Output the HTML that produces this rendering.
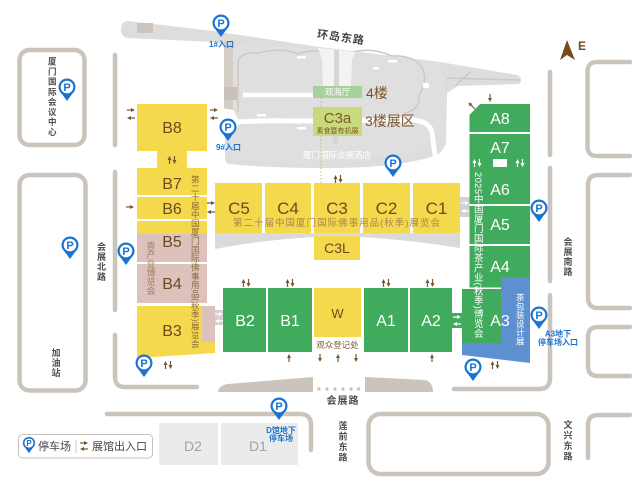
<!DOCTYPE html>
<html><head><meta charset="utf-8">
<style>
html,body{margin:0;padding:0;background:#fff;}
body{width:640px;height:490px;position:relative;overflow:hidden;}
svg{position:absolute;left:0;top:0;}
.v{position:absolute;writing-mode:vertical-rl;white-space:nowrap;font-family:"Liberation Sans","Noto Sans CJK SC",sans-serif;}
.rd{color:#4d4d4d;font-weight:bold;font-size:9px;line-height:9px;letter-spacing:1px;}
</style></head>
<body>
<svg width="640" height="490" viewBox="0 0 640 490" xmlns="http://www.w3.org/2000/svg" font-family="'Liberation Sans','Noto Sans CJK SC',sans-serif">
<defs>
<marker id="mb" markerWidth="4" markerHeight="4" refX="0.5" refY="2" orient="auto" markerUnits="userSpaceOnUse"><path d="M0,0L4,2L0,4z" fill="#7a5530"/></marker>
<marker id="mw" markerWidth="4" markerHeight="4" refX="0.5" refY="2" orient="auto" markerUnits="userSpaceOnUse"><path d="M0,0L4,2L0,4z" fill="#fff"/></marker>
</defs>

<!-- roads -->
<g fill="none" stroke="#cbc4bd" stroke-width="4.5" stroke-linecap="round">
<rect x="19.5" y="50" width="65" height="95" rx="10"/>
<rect x="19.5" y="175" width="66" height="215.5" rx="10"/>
<path d="M115,55V145"/>
<path d="M115,172V310"/>
<path d="M115,335V377Q115,387 125,387H197"/>
<path d="M107,414H300Q311,414 311,425V450"/>
<rect x="368.5" y="414" width="180" height="60" rx="12"/>
<path d="M550,72V155"/>
<path d="M550,168V281"/>
<path d="M550,295V378Q550,389 539,389H454"/>
<path d="M630,62H597Q587.5,62 587.5,72V146Q587.5,156 597,156H630"/>
<path d="M630,175H598Q588,175 588,185V298Q588,308 598,308H630"/>
<path d="M630,327H598Q588,327 588,337V366Q588,376 598,376H630"/>
<path d="M630,415H598Q588,415 588,425V458"/>
</g>
<g fill="#cbc4bd">
<path d="M218,392Q219,385 228,384L313,377V392Z"/>
<path d="M365,377L425,380Q433,382 433,392H365Z"/>
<circle cx="319" cy="389" r="1.7"/><circle cx="327" cy="389" r="1.7"/><circle cx="335" cy="389" r="1.7"/><circle cx="343" cy="389" r="1.7"/><circle cx="351" cy="389" r="1.7"/><circle cx="358.5" cy="389" r="1.7"/>
</g>

<!-- hotel gray area -->
<path d="M128,21L213,31L320,47L440,62L517,75Q524,79 519,84L458,86L447,93L446,140Q445,150 437,155Q400,168 330,168Q270,168 229,164Q225,163 225,158L224,44L213,42L128,38Q121,37 121,29.5Q121,21 128,21Z" fill="#dddddd"/>
<path d="M225,44L320,48L440,63L446,93L446,145L330,166L226,160Z" fill="#dfdfdf"/>
<rect x="137" y="23" width="16" height="10" fill="#cdc5bd"/>
<rect x="224" y="42" width="9" height="70" fill="#d4cdc6"/>
<rect x="224" y="87" width="13" height="13" fill="#c9c1b9"/>
<g fill="none" stroke="#cfc8c1" stroke-width="1.5">
<path d="M238,112V62Q240,52 258,53Q280,47 298,54Q312,49 322,52"/>
<path d="M352,52Q372,47 392,56Q412,55 421,66Q429,80 419,95Q421,110 404,113"/>
<path d="M446,78L520,80"/>
<path d="M455,86L470,72"/>
</g>
<path d="M318,48L356,52L352,60L351,86L323,86L322,60Z" fill="#f3f3f3"/>
<rect x="334" y="50" width="5" height="36" fill="#d6d6d6"/>
<rect x="333" y="136" width="5" height="8" fill="#d6d6d6"/>
<path d="M243,95H313" stroke="#fff" stroke-width="4.5" fill="none"/>
<path d="M222,124Q240,120 300,121L412,120Q430,121 432,133L436,162" stroke="#fff" stroke-width="5" fill="none"/>
<path d="M221,108L233,110L240,122L232,136L221,138Z" fill="#fff"/>
<g fill="#fff">
<rect x="297" y="56" width="9" height="2.5"/><rect x="388" y="60" width="9" height="2.5"/>
<rect x="373" y="67" width="6" height="2.5"/><rect x="257" y="114" width="9" height="2.5"/>
<rect x="297" y="127" width="9" height="2.5"/><rect x="423" y="83" width="6" height="5"/>
</g>
<text x="337" y="158" font-size="8.5" fill="#fff" text-anchor="middle">厦门国际会展酒店</text>
<text x="341" y="41" font-size="11" font-weight="bold" fill="#444" text-anchor="middle" letter-spacing="1" transform="rotate(8 341 37)">环岛东路</text>

<!-- 观海厅 / C3a -->
<rect x="313" y="86" width="49" height="12" fill="#a8d09b"/>
<text x="337.5" y="95" font-size="8.5" fill="#fff" text-anchor="middle">观海厅</text>
<rect x="313" y="107" width="49" height="29" fill="#c9d97e"/>
<text x="337.5" y="123" font-size="15" fill="#7a5a28" text-anchor="middle">C3a</text>
<text x="337.5" y="133" font-size="7" fill="#7a5a28" text-anchor="middle">素食暨有机展</text>
<text x="366" y="98" font-size="14" fill="#7b5527">4楼</text>
<text x="365" y="126" font-size="14" fill="#7b5527">3楼展区</text>
<path d="M321,98V107M321,136V183" stroke="#a9c96a" stroke-dasharray="1.5 2" stroke-width="1" fill="none"/>

<!-- gray band under C row -->
<path d="M215,233H460V248Q410,240 361,237H314Q262,240 215,249Z" fill="#dadada"/>

<!-- B column -->
<g fill="#f4d94c">
<rect x="137" y="104" width="70" height="47"/>
<rect x="157" y="150" width="30" height="18"/>
<rect x="137" y="168" width="70" height="27"/>
<rect x="137" y="197" width="70" height="22"/>
<rect x="137" y="221" width="70" height="13"/>
<path d="M137,306H215V353L137,358Z"/>
</g>
<g fill="#dcc1bd">
<rect x="137" y="234" width="70" height="28"/>
<rect x="137" y="264" width="70" height="39"/>
<rect x="202" y="306" width="13" height="36"/>
</g>
<rect x="215" y="310" width="8" height="15" fill="#d2d2d2"/>

<!-- C row -->
<g fill="#f4d94c">
<rect x="215" y="183" width="47" height="50"/>
<rect x="265" y="183" width="46" height="50"/>
<rect x="314" y="183" width="46" height="50"/>
<rect x="363" y="183" width="47" height="50"/>
<rect x="413" y="183" width="47" height="50"/>
<rect x="314" y="236" width="46" height="24"/>
<rect x="314" y="288" width="47" height="49"/>
</g>
<rect x="460" y="197" width="9.5" height="20" fill="#d2d2d2"/>
<text x="233" y="226" font-size="9.5" fill="#a6874f" textLength="207" lengthAdjust="spacing">第二十届中国厦门国际佛事用品(秋季)展览会</text>

<!-- green areas -->
<g fill="#41ab5d">
<path d="M480,104H530V132H469.5V115Z"/>
<rect x="469.5" y="134" width="60.5" height="70"/>
<rect x="469.5" y="206" width="60.5" height="38"/>
<rect x="469.5" y="246" width="60.5" height="41.5"/>
<rect x="462" y="289" width="39" height="54"/>
<rect x="452" y="313" width="10" height="15"/>
<rect x="223" y="288" width="43" height="64"/>
<rect x="268" y="288" width="44" height="64"/>
<rect x="364" y="288" width="44" height="64"/>
<rect x="410" y="288" width="42" height="64"/>
</g>
<path d="M501,277H530V363L462,355V343H501Z" fill="#5d90d0"/>
<rect x="493" y="159" width="14" height="8" fill="#fff"/>

<!-- labels -->
<g font-size="16" fill="#6b4a22" text-anchor="middle">
<text x="172" y="133">B8</text>
<text x="172" y="189">B7</text>
<text x="172" y="214">B6</text>
<text x="172" y="247">B5</text>
<text x="172" y="289">B4</text>
<text x="172" y="336">B3</text>
</g>
<g font-size="17" fill="#6b4a22" text-anchor="middle">
<text x="239" y="214">C5</text>
<text x="288" y="214">C4</text>
<text x="337" y="214">C3</text>
<text x="386.5" y="214">C2</text>
<text x="436.5" y="214">C1</text>
</g>
<text x="337" y="253" font-size="14" fill="#6b4a22" text-anchor="middle">C3L</text>
<text x="337.5" y="318" font-size="13" fill="#6b4a22" text-anchor="middle">W</text>
<text x="337.5" y="348" font-size="8.5" fill="#7b5a30" text-anchor="middle">观众登记处</text>
<g font-size="16" fill="#fff" text-anchor="middle">
<text x="245" y="326">B2</text>
<text x="290" y="326">B1</text>
<text x="386" y="326">A1</text>
<text x="431" y="326">A2</text>
<text x="500" y="124">A8</text>
<text x="500" y="153">A7</text>
<text x="500" y="195">A6</text>
<text x="500" y="230">A5</text>
<text x="500" y="272">A4</text>
<text x="500" y="326">A3</text>
</g>

<!-- brown arrows -->
<g stroke="#7a5530" stroke-width="1.2" marker-end="url(#mb)">
<line x1="127" y1="110" x2="131.5" y2="110"/><line x1="135" y1="118" x2="130.5" y2="118"/>
<line x1="210" y1="110" x2="214.5" y2="110"/><line x1="218" y1="118" x2="213.5" y2="118"/>
<line x1="169.5" y1="164" x2="169.5" y2="159.5"/><line x1="174.5" y1="156" x2="174.5" y2="160.5"/>
<line x1="126" y1="207" x2="130.5" y2="207"/>
<line x1="207" y1="203" x2="211.5" y2="203"/><line x1="215" y1="212" x2="210.5" y2="212"/>
<line x1="335.5" y1="183" x2="335.5" y2="178.5"/><line x1="340.5" y1="175" x2="340.5" y2="179.5"/>
<line x1="490" y1="94" x2="490" y2="98.5"/>
<line x1="475" y1="109" x2="470.8" y2="104.8"/>
<line x1="243.5" y1="287" x2="243.5" y2="282.5"/><line x1="248.5" y1="279" x2="248.5" y2="283.5"/>
<line x1="287.5" y1="287" x2="287.5" y2="282.5"/><line x1="292.5" y1="279" x2="292.5" y2="283.5"/>
<line x1="383.5" y1="287" x2="383.5" y2="282.5"/><line x1="388.5" y1="279" x2="388.5" y2="283.5"/>
<line x1="427.5" y1="287" x2="427.5" y2="282.5"/><line x1="432.5" y1="279" x2="432.5" y2="283.5"/>
<line x1="289" y1="362" x2="289" y2="357.5"/>
<line x1="320" y1="354" x2="320" y2="358.5"/>
<line x1="338" y1="362" x2="338" y2="357.5"/>
<line x1="356" y1="354" x2="356" y2="358.5"/>
<line x1="432" y1="362" x2="432" y2="357.5"/>
<line x1="165.5" y1="369" x2="165.5" y2="364.5"/><line x1="170.5" y1="361" x2="170.5" y2="365.5"/>
<line x1="492.5" y1="369" x2="492.5" y2="364.5"/><line x1="497.5" y1="361" x2="497.5" y2="365.5"/>
</g>
<!-- white arrows -->
<g stroke="#fff" stroke-width="1.2" marker-end="url(#mw)">
<line x1="461" y1="203" x2="465.5" y2="203"/><line x1="469" y1="211" x2="464.5" y2="211"/>
<line x1="215" y1="314" x2="219.5" y2="314"/><line x1="223" y1="321" x2="218.5" y2="321"/>
<line x1="453" y1="317" x2="457.5" y2="317"/><line x1="461" y1="324" x2="456.5" y2="324"/>
<line x1="474.5" y1="167" x2="474.5" y2="162.5"/><line x1="479.5" y1="159" x2="479.5" y2="163.5"/>
<line x1="517.5" y1="167" x2="517.5" y2="162.5"/><line x1="522.5" y1="159" x2="522.5" y2="163.5"/>
</g>

<!-- compass -->
<path d="M560,60L567,40L575,60L567,55Z" fill="#7a4a1a"/>
<text x="578" y="50" font-size="12" font-weight="bold" fill="#7a4a1a">E</text>

<!-- road labels -->
<text x="343" y="404" font-size="10" font-weight="bold" fill="#4d4d4d" text-anchor="middle" letter-spacing="1">会展路</text>

<!-- D halls -->
<rect x="159" y="423" width="59" height="42" fill="#ebebeb"/>
<rect x="221" y="423" width="77" height="42" fill="#ebebeb"/>
<text x="193" y="451" font-size="14" fill="#a3a3a3" text-anchor="middle">D2</text>
<text x="258" y="451" font-size="14" fill="#a3a3a3" text-anchor="middle">D1</text>

<!-- P markers -->
<g font-size="11" font-weight="bold" text-anchor="middle">
<g transform="translate(221,23)"><path d="M-6.5,5L0,14L6.5,5Z" fill="#1a73d0"/><circle r="8.5" fill="#1a73d0"/><circle r="6.3" fill="#fff"/><text y="4" fill="#1a73d0">P</text></g>
<g transform="translate(228,127)"><path d="M-6.5,5L0,14L6.5,5Z" fill="#1a73d0"/><circle r="8.5" fill="#1a73d0"/><circle r="6.3" fill="#fff"/><text y="4" fill="#1a73d0">P</text></g>
<g transform="translate(67,87)"><path d="M-6.5,5L0,14L6.5,5Z" fill="#1a73d0"/><circle r="8.5" fill="#1a73d0"/><circle r="6.3" fill="#fff"/><text y="4" fill="#1a73d0">P</text></g>
<g transform="translate(393,163)"><path d="M-6.5,5L0,14L6.5,5Z" fill="#1a73d0"/><circle r="8.5" fill="#1a73d0"/><circle r="6.3" fill="#fff"/><text y="4" fill="#1a73d0">P</text></g>
<g transform="translate(70,245)"><path d="M-6.5,5L0,14L6.5,5Z" fill="#1a73d0"/><circle r="8.5" fill="#1a73d0"/><circle r="6.3" fill="#fff"/><text y="4" fill="#1a73d0">P</text></g>
<g transform="translate(126,251)"><path d="M-6.5,5L0,14L6.5,5Z" fill="#1a73d0"/><circle r="8.5" fill="#1a73d0"/><circle r="6.3" fill="#fff"/><text y="4" fill="#1a73d0">P</text></g>
<g transform="translate(144,363)"><path d="M-6.5,5L0,14L6.5,5Z" fill="#1a73d0"/><circle r="8.5" fill="#1a73d0"/><circle r="6.3" fill="#fff"/><text y="4" fill="#1a73d0">P</text></g>
<g transform="translate(539,208)"><path d="M-6.5,5L0,14L6.5,5Z" fill="#1a73d0"/><circle r="8.5" fill="#1a73d0"/><circle r="6.3" fill="#fff"/><text y="4" fill="#1a73d0">P</text></g>
<g transform="translate(539,315)"><path d="M-6.5,5L0,14L6.5,5Z" fill="#1a73d0"/><circle r="8.5" fill="#1a73d0"/><circle r="6.3" fill="#fff"/><text y="4" fill="#1a73d0">P</text></g>
<g transform="translate(473,367)"><path d="M-6.5,5L0,14L6.5,5Z" fill="#1a73d0"/><circle r="8.5" fill="#1a73d0"/><circle r="6.3" fill="#fff"/><text y="4" fill="#1a73d0">P</text></g>
<g transform="translate(279,406)"><path d="M-6.5,5L0,14L6.5,5Z" fill="#1a73d0"/><circle r="8.5" fill="#1a73d0"/><circle r="6.3" fill="#fff"/><text y="4" fill="#1a73d0">P</text></g>
</g>
<g font-size="8" font-weight="bold" fill="#1a73d0" text-anchor="middle">
<text x="221.5" y="47">1#入口</text>
<text x="228.5" y="150">9#入口</text>
<text x="558" y="336.5">A3地下</text>
<text x="558" y="345">停车场入口</text>
<text x="281" y="433">D馆地下</text>
<text x="281" y="441">停车场</text>
</g>

<!-- legend -->
<rect x="18.5" y="434.5" width="134" height="23.5" rx="4" fill="#fff" stroke="#c9c2bb" stroke-width="1"/>
<g transform="translate(29,443) scale(0.72)" font-size="11" font-weight="bold" text-anchor="middle"><path d="M-6.5,5L0,14L6.5,5Z" fill="#1a73d0"/><circle r="8.5" fill="#1a73d0"/><circle r="6.3" fill="#fff"/><text y="4" fill="#1a73d0">P</text></g>
<text x="38" y="450" font-size="11" fill="#444">停车场</text>
<line x1="76" y1="440" x2="76" y2="453" stroke="#ccc" stroke-width="1"/>
<g stroke="#7a5530" stroke-width="1.2" marker-end="url(#mb)">
<line x1="80" y1="443" x2="84.5" y2="443"/><line x1="88" y1="449" x2="83.5" y2="449"/>
</g>
<text x="92" y="450" font-size="11" fill="#444">展馆出入口</text>
</svg>

<!-- vertical texts -->
<div class="v rd" style="left:47.75px;top:57px;font-size:8.5px;line-height:8.5px;letter-spacing:1.6px;">厦门国际会议中心</div>
<div class="v rd" style="left:96px;top:242px;">会展北路</div>
<div class="v rd" style="left:50.5px;top:348px;">加油站</div>
<div class="v rd" style="left:562.5px;top:237px;">会展南路</div>
<div class="v rd" style="left:562.5px;top:420px;letter-spacing:1.5px;">文兴东路</div>
<div class="v rd" style="left:337.5px;top:421px;letter-spacing:1.5px;">莲前东路</div>
<div class="v" style="left:190.75px;top:175px;font-size:8.5px;line-height:8.5px;letter-spacing:0.3px;color:#8a6a3c;">第二十届中国厦门国际佛事用品(秋季)展览会</div>
<div class="v" style="left:145.5px;top:241px;font-size:9px;line-height:9px;color:#9e7e62;">香产业博览会</div>
<div class="v" style="left:472.25px;top:172px;font-size:9.5px;line-height:9.5px;letter-spacing:0.3px;color:#fff;">2025中国厦门国际茶产业(秋季)博览会</div>
<div class="v" style="left:515.75px;top:293px;font-size:8.5px;line-height:8.5px;letter-spacing:0.3px;color:#fff;">茶包装设计展</div>
</body></html>
